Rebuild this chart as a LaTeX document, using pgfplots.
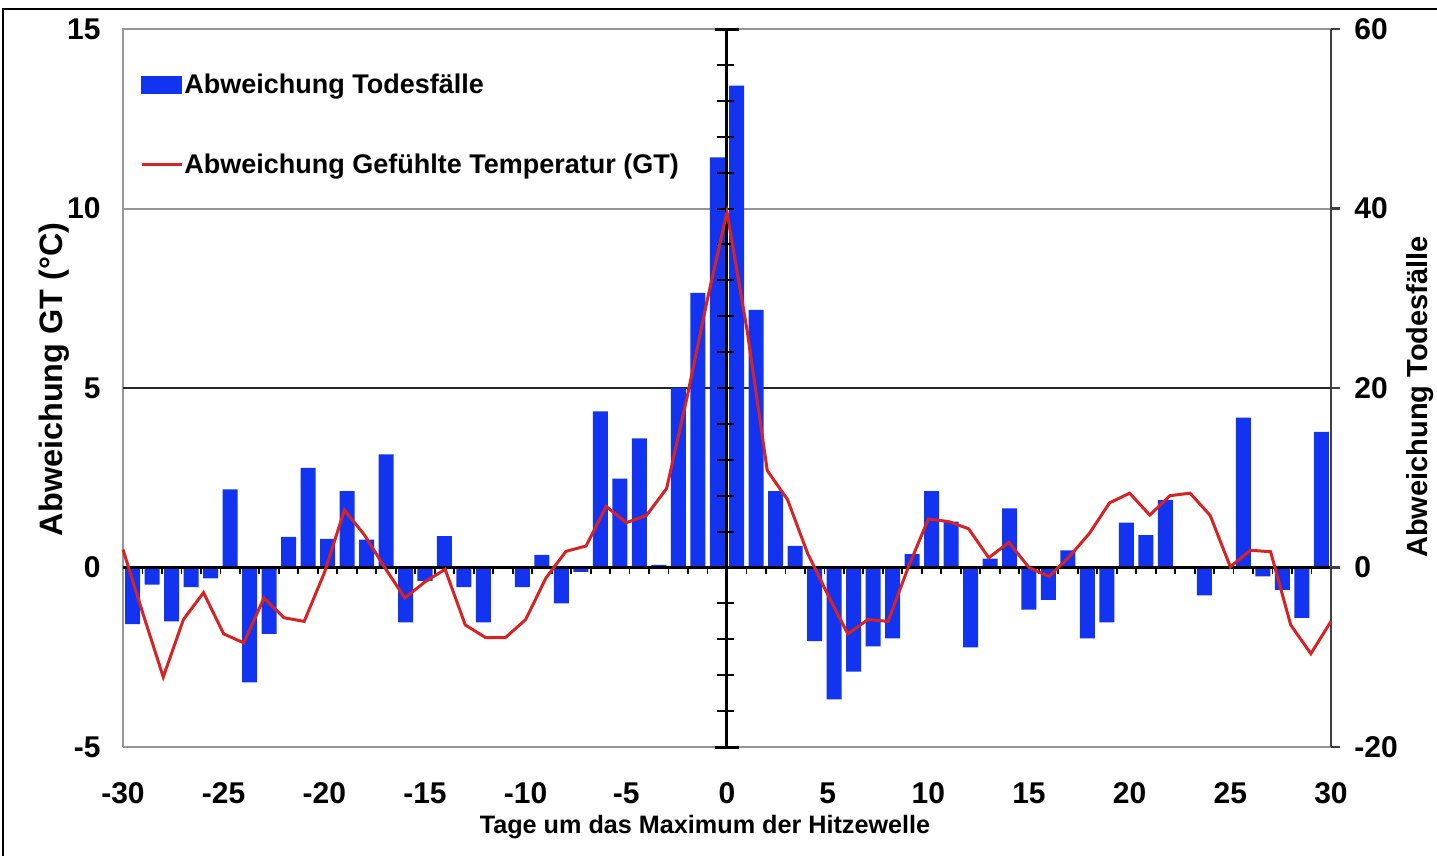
\documentclass[border=0pt]{standalone}
\usepackage{fontspec}
\setmainfont{Liberation Sans}
\usepackage{pgfplots}
\pgfplotsset{compat=1.18}
\definecolor{barblue}{RGB}{18,52,240}
\definecolor{linered}{RGB}{215,35,35}
\definecolor{gridgray}{RGB}{150,150,150}

\begin{document}
\begin{tikzpicture}
\useasboundingbox (0,0) rectangle (718.5pt,-428pt);
\draw[line width=1pt] (1.5pt,-428pt) -- (1.5pt,-4.5pt) -- (718.5pt,-4.5pt);

% deaths (right axis), bars
\begin{axis}[
  at={(61.5pt,-373.5pt)}, anchor=south west,
  width=604pt, height=359pt, scale only axis,
  xmin=0, xmax=62, ymin=-20, ymax=60,
  axis line style={draw=none},
  xtick=\empty,
  ytick={-20,0,20,40,60},
  ytick pos=right, yticklabel pos=right,
  tick align=outside, major tick length=4.5pt,
  tick style={black!75, line width=1.2pt},
  yticklabel style={font=\fontsize{15}{18}\selectfont\bfseries, anchor=west, inner sep=0pt, xshift=7pt},
  /pgf/number format/assume math mode=true,
  ylabel={Abweichung Todesfälle},
  every axis y label/.style={at={(axis description cs:1.0737,0.4875)}, rotate=90, anchor=center, inner sep=0pt, font=\fontsize{14.5}{17}\selectfont\bfseries},
  clip=false,
]
\draw[gridgray, line width=1pt] (rel axis cs:0,0) -- (rel axis cs:1,0);
\draw[gridgray, line width=1pt] (rel axis cs:0,0) -- (rel axis cs:0,1) -- (rel axis cs:1,1);
\draw[gridgray, line width=1pt] (axis cs:0,40) -- (axis cs:62,40);
\draw[black!85, line width=1pt] (axis cs:0,20) -- (axis cs:62,20);
\addplot[ybar, bar width=0.77, fill=barblue, draw=none] coordinates {
(0.5,-6.3) (1.5,-1.9) (2.5,-6.0) (3.5,-2.2) (4.5,-1.2) (5.5,8.7) (6.5,-12.8) (7.5,-7.4)
(8.5,3.4) (9.5,11.1) (10.5,3.2) (11.5,8.5) (12.5,3.1) (13.5,12.6) (14.5,-6.1) (15.5,-1.5)
(16.5,3.5) (17.5,-2.2) (18.5,-6.1) (19.5,0) (20.5,-2.2) (21.5,1.4) (22.5,-4.0) (23.5,-0.5)
(24.5,17.4) (25.5,9.9) (26.5,14.4) (27.5,0.3) (28.5,20.0) (29.5,30.6) (30.5,45.7) (31.5,53.7)
(32.5,28.7) (33.5,8.5) (34.5,2.4) (35.5,-8.2) (36.5,-14.7) (37.5,-11.6) (38.5,-8.8) (39.5,-7.9)
(40.5,1.5) (41.5,8.5) (42.5,5.1) (43.5,-8.9) (44.5,1.0) (45.5,6.6) (46.5,-4.7) (47.5,-3.6)
(48.5,1.9) (49.5,-7.9) (50.5,-6.1) (51.5,5.0) (52.5,3.6) (53.5,7.5) (54.5,0) (55.5,-3.1)
(56.5,0) (57.5,16.7) (58.5,-1.0) (59.5,-2.5) (60.5,-5.6) (61.5,15.1)
};
% zero line with category ticks
\draw[black, line width=1.3pt] (axis cs:0,0) -- (axis cs:62,0);
\pgfplotsinvokeforeach{1,...,61}{\draw[black, line width=0.9pt] (axis cs:#1,0) -- ++(0pt,-3pt);}
% vertical axis at day 0
\draw[black, line width=1.5pt] (axis cs:31,-20) -- (axis cs:31,60);
\pgfplotsinvokeforeach{-16,-12,...,56}{\draw[black, line width=1pt] ([xshift=-5pt]axis cs:31,#1) -- ([xshift=3.5pt]axis cs:31,#1);}
\draw[black, line width=1.5pt] ([xshift=-6pt]axis cs:31,-20) -- ([xshift=6pt]axis cs:31,-20);
\draw[black, line width=1.5pt] ([xshift=-6pt]axis cs:31,60) -- ([xshift=6pt]axis cs:31,60);
\draw[black!75, line width=1.2pt] (rel axis cs:1,0) -- (rel axis cs:1,1);
\end{axis}

% temperature (left axis), line
\begin{axis}[
  at={(61.5pt,-373.5pt)}, anchor=south west,
  width=604pt, height=359pt, scale only axis,
  xmin=-30, xmax=30, ymin=-5, ymax=15,
  axis line style={draw=none},
  xtick={-30,-25,...,30}, ytick={-5,0,...,15},
  major tick length=0pt,
  tick label style={font=\fontsize{15}{18}\selectfont\bfseries},
  xticklabel style={anchor=north, inner sep=0pt, yshift=-17.5pt},
  yticklabel style={anchor=east, inner sep=0pt, xshift=-11pt},
  /pgf/number format/assume math mode=true,
  xlabel={Tage um das Maximum der Hitzewelle},
  ylabel={Abweichung GT (°C)},
  every axis x label/.style={at={(axis description cs:0.4818,0)}, anchor=north, yshift=-34pt, inner sep=0pt, font=\fontsize{12.6}{15}\selectfont\bfseries},
  every axis y label/.style={at={(axis description cs:-0.057,0.512)}, rotate=90, anchor=center, inner sep=0pt, font=\fontsize{16.2}{19}\selectfont\bfseries},
  legend style={at={(axis description cs:0.014,0.938)}, anchor=north west, draw=none, fill=none, inner sep=0pt, row sep=28.5pt, font=\fontsize{13.5}{16}\selectfont\bfseries, nodes={inner xsep=0.5pt, inner ysep=0pt}},
  legend cell align=left,
  clip=false,
]
\addlegendimage{legend image code/.code={\fill[barblue] (0pt,-4.25pt) rectangle (20pt,4.25pt);}}
\addlegendentry{Abweichung Todesfälle}
\addplot[linered, line width=1.5pt, mark=none, legend image code/.code={\draw[linered, line width=1.5pt] (0pt,0pt) -- (20pt,0pt);}] coordinates {
(-30,0.5) (-29,-1.3) (-28,-3.05) (-27,-1.45) (-26,-0.7) (-25,-1.85) (-24,-2.1) (-23,-0.85)
(-22,-1.4) (-21,-1.5) (-20,-0.15) (-19,1.6) (-18,0.9) (-17,0.0) (-16,-0.85) (-15,-0.4)
(-14,-0.05) (-13,-1.6) (-12,-1.95) (-11,-1.95) (-10,-1.45) (-9,-0.3) (-8,0.45) (-7,0.6)
(-6,1.7) (-5,1.25) (-4,1.45) (-3,2.2) (-2,4.7) (-1,7.4) (0,9.9) (1,6.6)
(2,2.7) (3,1.9) (4,0.4) (5,-0.75) (6,-1.85) (7,-1.45) (8,-1.5) (9,0.0)
(10,1.35) (11,1.28) (12,1.08) (13,0.27) (14,0.7) (15,0.0) (16,-0.25) (17,0.3)
(18,0.95) (19,1.8) (20,2.07) (21,1.46) (22,2.0) (23,2.07) (24,1.45) (25,0.02)
(26,0.48) (27,0.44) (28,-1.6) (29,-2.4) (30,-1.5)
};
\addlegendentry{Abweichung Gefühlte Temperatur (GT)}
\end{axis}
\end{tikzpicture}
\end{document}
